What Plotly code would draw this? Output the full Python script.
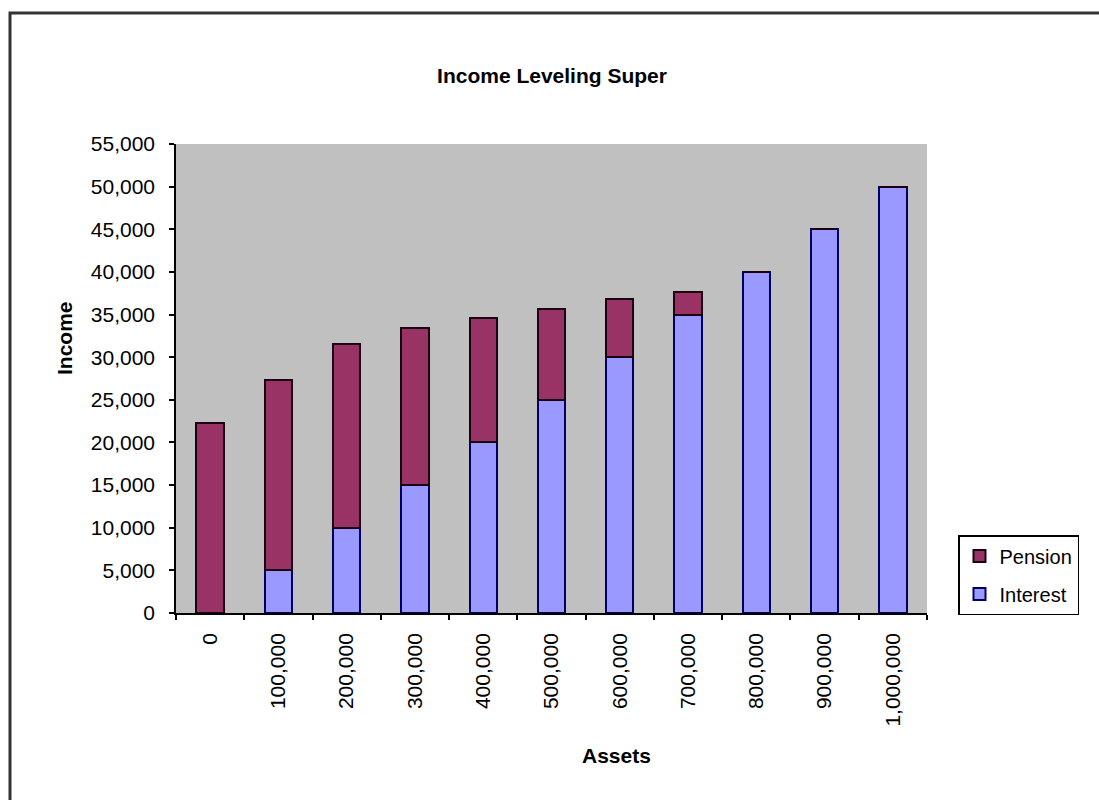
import plotly.graph_objects as go

categories = ["0", "100,000", "200,000", "300,000", "400,000", "500,000",
              "600,000", "700,000", "800,000", "900,000", "1,000,000"]
interest = [0, 5000, 10000, 15000, 20000, 25000, 30000, 35000, 40000, 45000, 50000]
totals = [22300, 27300, 31500, 33400, 34600, 35600, 36800, 37700, 40000, 45000, 50000]
pension = [t - i for t, i in zip(totals, interest)]
y_ticks = list(range(0, 55001, 5000))

FONT = "Liberation Sans, Arial, sans-serif"

fig = go.Figure()
fig.add_trace(go.Bar(
    x=categories, y=interest, name="Interest", legendgroup="b", legendrank=2,
    marker=dict(color="#9999FF", line=dict(color="#000060", width=2)),
))
fig.add_trace(go.Bar(
    x=categories, y=pension, name="Pension", legendgroup="a", legendrank=1,
    marker=dict(color="#993366", line=dict(color="#1a0010", width=2)),
))

W, H = 1099, 800
ml, mr, mt, mb = 176, 172, 144, 187
pw, ph = W - ml - mr, H - mt - mb

def px(x):
    return (x - ml) / pw

def py(y):
    return (H - mb - y) / ph

fig.update_layout(
    width=W, height=H,
    margin=dict(l=ml, r=mr, t=mt, b=mb, pad=0),
    barmode="stack", bargap=0.6,
    paper_bgcolor="white", plot_bgcolor="#C0C0C0",
    font=dict(family=FONT, size=21, color="black"),
    title=dict(text="<b>Income Leveling Super</b>", x=552 / W, xanchor="center",
               y=1 - 76 / H, yanchor="middle",
               font=dict(family=FONT, size=21, color="black")),
    showlegend=True,
    legend=dict(x=px(958), y=py(535), xanchor="left", yanchor="top",
                traceorder="grouped", bgcolor="white",
                bordercolor="black", borderwidth=1.5,
                font=dict(family=FONT, size=20, color="black"),
                itemwidth=30, tracegroupgap=9),
    xaxis=dict(type="category", showgrid=False, showline=True, linecolor="black",
               linewidth=1.5, ticks="outside", tickson="boundaries", ticklen=5,
               tickcolor="black", tickwidth=1.5, tickangle=-90,
               ticklabelstandoff=10,
               tickfont=dict(family=FONT, size=21, color="black")),
    yaxis=dict(range=[0, 55000], tickvals=y_ticks, tickformat=",d",
               showgrid=False, zeroline=False, showline=True, linecolor="black",
               linewidth=1.5, ticks="outside", ticklen=5, tickcolor="black",
               tickwidth=1.5, ticklabelstandoff=10,
               tickfont=dict(family=FONT, size=21, color="black")),
    annotations=[
        dict(text="<b>Income</b>", xref="paper", yref="paper", x=px(64), y=py(338),
             xanchor="center", yanchor="middle", textangle=-90, showarrow=False,
             font=dict(family=FONT, size=21, color="black")),
        dict(text="<b>Assets</b>", xref="paper", yref="paper", x=px(616), y=py(755),
             xanchor="center", yanchor="middle", showarrow=False,
             font=dict(family=FONT, size=21, color="black")),
    ],
    shapes=[
        dict(type="rect", xref="paper", yref="paper",
             x0=px(10), x1=px(1120), y0=py(820), y1=py(13),
             line=dict(color="#333333", width=3), fillcolor="rgba(0,0,0,0)",
             layer="above"),
    ],
)

fig.write_html("out.html")
